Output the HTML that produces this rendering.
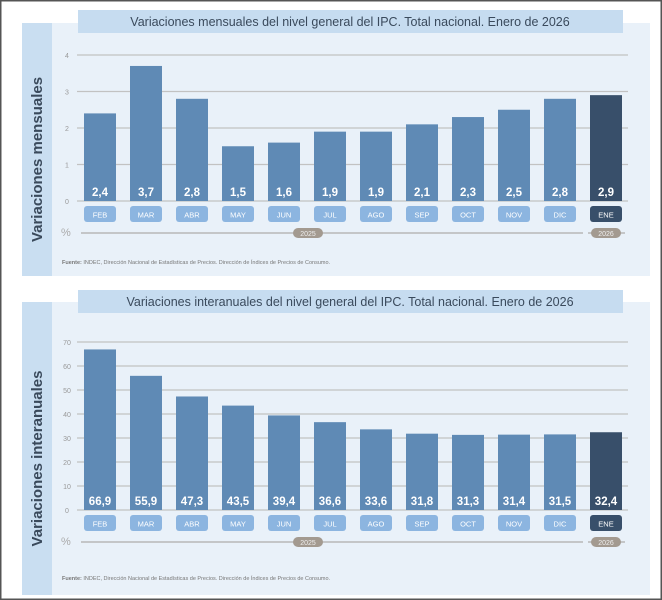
<!DOCTYPE html>
<html><head><meta charset="utf-8"><style>
html,body{margin:0;padding:0;background:#fff;}
svg{display:block;font-family:"Liberation Sans",sans-serif;}
</style></head><body>
<svg id="s" width="662" height="600" viewBox="0 0 662 600">
<rect x="0.5" y="0.5" width="661" height="599" fill="#fff" stroke="#555" stroke-width="2"/>
</svg>
<script>
const months = ["FEB","MAR","ABR","MAY","JUN","JUL","AGO","SEP","OCT","NOV","DIC","ENE"];
const monthlyValues = [2.4,3.7,2.8,1.5,1.6,1.9,1.9,2.1,2.3,2.5,2.8,2.9];
const monthlyTicks = [0,1,2,3,4];
const annualValues = [66.9,55.9,47.3,43.5,39.4,36.6,33.6,31.8,31.3,31.4,31.5,32.4];
const annualTicks = [0,10,20,30,40,50,60,70];
const years = ["2025","2026"];

const NS="http://www.w3.org/2000/svg";
const svg=document.getElementById('s');
function el(tag,attrs,parent,text){const e=document.createElementNS(NS,tag);for(const k in attrs)e.setAttribute(k,attrs[k]);if(text!==undefined)e.textContent=text;(parent||svg).appendChild(e);return e;}

function chart(cfg){
  const g=el('g',{});
  
  
  const p=el('rect',{x:22,y:cfg.panelTop,width:628,height:cfg.panelBottom-cfg.panelTop,fill:'#e9f1f9'},g);
  
  const band=el('rect',{x:22,y:cfg.panelTop,width:30,height:cfg.panelBottom-cfg.panelTop,fill:'#c9def1'},g);
  
  const yt=el('text',{x:0,y:0,transform:`translate(42,${(cfg.panelTop+cfg.panelBottom)/2+10}) rotate(-90)`,'text-anchor':'middle','font-size':15,'font-weight':'bold',fill:'#3a4a5c'},g,cfg.yTitle);
  
  const tb=el('rect',{x:78,y:cfg.titleTop,width:545,height:23,fill:'#c6dcf0'},g);
  
  const tt=el('text',{x:350,y:cfg.titleTop+16,'text-anchor':'middle','font-size':12.5,fill:'#3a4a5c'},g,cfg.title);
  
  const yMax=cfg.ticks[cfg.ticks.length-1];
  const y=v=>cfg.y0-(v/yMax)*(cfg.y0-cfg.yTop);
  const x=i=>84+i*46;
  cfg.ticks.forEach(t=>{
    const l=el('line',{x1:77,x2:628,y1:y(t),y2:y(t),stroke:'#c2c2c2','stroke-width':1.3},g);
    
    const tx=el('text',{x:67,y:y(t)+3,'text-anchor':'middle','font-size':7,fill:'#999'},g,String(t));
    
  });
  months.forEach((m,i)=>{
    const v=cfg.values[i];const last=i===months.length-1;
    const b=el('rect',{x:x(i),y:y(v),width:32,height:cfg.y0-y(v),fill:last?'#384f6a':'#5f8ab5'},g);
    
    const vl=el('text',{x:x(i)+16,y:cfg.y0-5,'text-anchor':'middle','font-size':11.5,'font-weight':'bold',fill:'#fff'},g,String(v).replace('.',','));
    
    const mb=el('rect',{x:x(i),y:cfg.y0+5,width:32,height:16,rx:3,fill:last?'#384f6a':'#8cb5e0'},g);
    
    const ml=el('text',{x:x(i)+16,y:cfg.y0+16.5,'text-anchor':'middle','font-size':7.5,fill:'#fff'},g,m);
    
  });
  const ly=cfg.y0+32;
  const pc=el('text',{x:61,y:ly+3,'font-size':11,fill:'#aaa'},g,'%');
  
  const l1=el('line',{x1:81,x2:583,y1:ly,y2:ly,stroke:'#b8b8b8','stroke-width':1.5},g);
  
  const l2=el('line',{x1:588,x2:625,y1:ly,y2:ly,stroke:'#b8b8b8','stroke-width':1.5},g);
  
  [[293,years[0]],[591,years[1]]].forEach(([px,t])=>{
    const r=el('rect',{x:px,y:ly-5,width:30,height:10,rx:5,fill:'#a39a90'},g);
    
    const yx=el('text',{x:px+15,y:ly+3,'text-anchor':'middle','font-size':7,fill:'#eee'},g,t);
    
  });
  const f=el('text',{x:62,y:cfg.srcY,'font-size':5.5,fill:'#777'},g);
  
  el('tspan',{'font-weight':'bold'},f,'Fuente: ');
  el('tspan',{},f,'INDEC, Dirección Nacional de Estadísticas de Precios. Dirección de Índices de Precios de Consumo.');
}
chart({name:'monthly-chart',panelTop:23,panelBottom:276,titleTop:10,yTitle:'Variaciones mensuales',title:'Variaciones mensuales del nivel general del IPC. Total nacional. Enero de 2026',values:monthlyValues,ticks:monthlyTicks,y0:201,yTop:55,srcY:264});
chart({name:'annual-chart',panelTop:302,panelBottom:595,titleTop:290,yTitle:'Variaciones interanuales',title:'Variaciones interanuales del nivel general del IPC. Total nacional. Enero de 2026',values:annualValues,ticks:annualTicks,y0:510,yTop:342,srcY:580});
</script>
</body></html>
